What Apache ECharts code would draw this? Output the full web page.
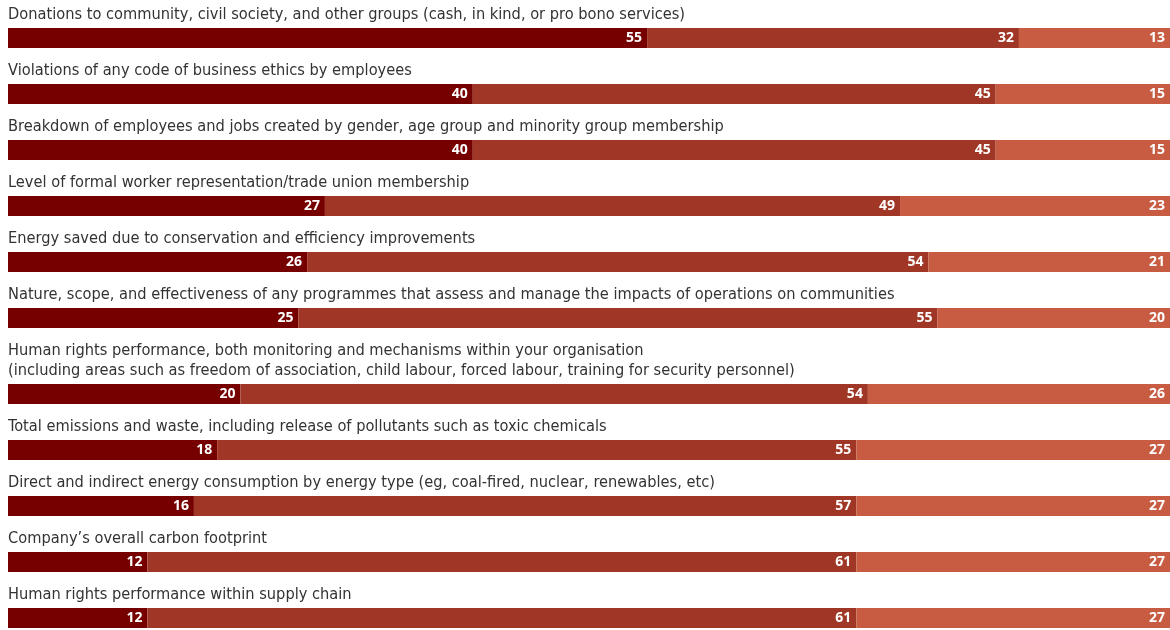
<!DOCTYPE html>
<html>
<head>
<meta charset="utf-8">
<script src="https://cdn.jsdelivr.net/npm/echarts@6/dist/echarts.min.js"></script>
<style>
  html, body { margin: 0; padding: 0; background: #fff; }
  #chart { width: 1170px; height: 630px; }
</style>
</head>
<body>
<div id="chart"></div>
<script>
// row labels, top to bottom
var categories = [
  'Donations to community, civil society, and other groups (cash, in kind, or pro bono services)',
  'Violations of any code of business ethics by employees',
  'Breakdown of employees and jobs created by gender, age group and minority group membership',
  'Level of formal worker representation/trade union membership',
  'Energy saved due to conservation and efficiency improvements',
  'Nature, scope, and effectiveness of any programmes that assess and manage the impacts of operations on communities',
  'Human rights performance, both monitoring and mechanisms within your organisation\n(including areas such as freedom of association, child labour, forced labour, training for security personnel)',
  'Total emissions and waste, including release of pollutants such as toxic chemicals',
  'Direct and indirect energy consumption by energy type (eg, coal-fired, nuclear, renewables, etc)',
  'Company\u2019s overall carbon footprint',
  'Human rights performance within supply chain'
]
var firstPart = [55, 40, 40, 27, 26, 25, 20, 18, 16, 12, 12]
var secondPart = [32, 45, 45, 49, 54, 55, 54, 55, 57, 61, 61]
var thirdPart = [13, 15, 15, 23, 21, 20, 26, 27, 27, 27, 27]

var colors = ['#760000', '#a03726', '#c85c42']
var textFont = '"Liberation Sans Narrow", "DejaVu Sans Condensed", sans-serif'

var chart = echarts.init(document.getElementById('chart'), null, { renderer: 'canvas' })

var grids = [], xAxes = [], yAxes = [], series = [], titles = []
var rowTop = 28
categories.forEach(function (cat, i) {
  var lines = cat.split('\n').length
  if (i > 0) rowTop += 56 + 20 * (lines - 1)
  var parts = [firstPart[i], secondPart[i], thirdPart[i]]
  var total = parts[0] + parts[1] + parts[2]
  grids.push({ left: 8, right: 0, top: rowTop, height: 20 })
  xAxes.push({ gridIndex: i, type: 'value', min: 0, max: total, show: false })
  yAxes.push({ gridIndex: i, type: 'category', data: ['r' + i], show: false })
  titles.push({
    text: cat,
    left: 8,
    top: rowTop - 3 - 20 * lines,
    padding: 0,
    textStyle: { fontFamily: textFont, fontSize: 16.25, fontWeight: 'normal', color: '#333', lineHeight: 20 }
  })
  parts.forEach(function (v, k) {
    series.push({
      type: 'bar',
      xAxisIndex: i,
      yAxisIndex: i,
      stack: 'row' + i,
      barWidth: 20,
      data: [v],
      itemStyle: { color: colors[k] },
      label: {
        show: true,
        position: 'insideRight',
        distance: 5,
        color: '#fff',
        fontFamily: '"Open Sans", sans-serif',
        fontWeight: 'bold',
        fontSize: 14
      },
      silent: true,
      animation: false
    })
  })
})

chart.setOption({
  backgroundColor: '#fff',
  animation: false,
  title: titles,
  grid: grids,
  xAxis: xAxes,
  yAxis: yAxes,
  series: series
})
</script>
</body>
</html>
